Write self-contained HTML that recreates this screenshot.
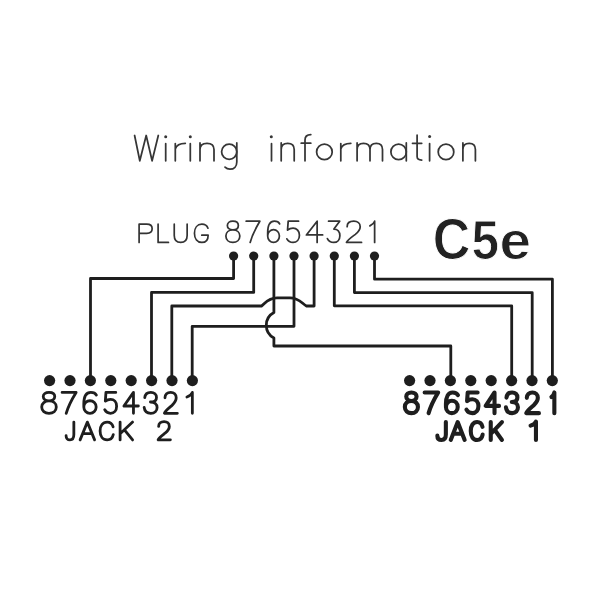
<!DOCTYPE html>
<html><head><meta charset="utf-8">
<style>
html,body{margin:0;padding:0;background:#fff;width:600px;height:600px;overflow:hidden}
svg{display:block;will-change:transform}
</style></head><body>
<svg width="600" height="600" viewBox="0 0 600 600">
<rect width="600" height="600" fill="#fff"/>
<!-- title -->
<g id="title" fill="none" stroke="#363636" stroke-width="1.75" stroke-linecap="round" stroke-linejoin="round">
<!-- W -->
<path d="M134.6,135.5 L139.8,160.8 L146.2,135.5 L152.1,160.8 L158.3,135.5"/>
<!-- i -->
<path d="M165.7,143.7 V160.8"/>
<!-- r -->
<path d="M175.3,143.5 V160.8 M175.3,149 C176.5,145 180,143.3 185.3,143.3"/>
<!-- i -->
<path d="M190.3,143.7 V160.8"/>
<!-- n -->
<path d="M200,142.9 V160.8 M200,149.5 C200,145 203,143.3 207,143.3 C211,143.3 214,145 214,149.5 V160.8"/>
<!-- g -->
<circle cx="229.2" cy="151.7" r="7.6"/>
<path d="M236.8,142.9 V162 C236.8,166.5 234,169.2 230,169.2 C228,169.2 226.3,168.5 225,167.2"/>
<!-- i -->
<path d="M271.5,143.7 V160.8"/>
<!-- n -->
<path d="M281.2,142.9 V160.8 M281.2,149.5 C281.2,145 284.2,143.3 287.7,143.3 C291.2,143.3 294.2,145 294.2,149.5 V160.8"/>
<!-- f -->
<path d="M305,160.8 V140 C305,136.5 307.3,134.6 310.8,134.6 M301.2,143.2 H310.8"/>
<!-- o -->
<circle cx="324.4" cy="151.9" r="7.8"/>
<!-- r -->
<path d="M340.8,143.5 V160.8 M340.8,149 C342,145 345.5,143.3 350.8,143.3"/>
<!-- m -->
<path d="M357.1,142.9 V160.8 M357.1,149.5 C357.1,145 360,143.3 363.5,143.3 C367,143.3 370,145 370,149.5 V160.8 M370,149.5 C370,145 373,143.3 376.3,143.3 C379.6,143.3 382.5,145 382.5,149.5 V160.8"/>
<!-- a -->
<circle cx="398.6" cy="151.9" r="7.7"/>
<path d="M406.3,142.9 V160.8"/>
<!-- t -->
<path d="M417.1,135.2 V156.5 C417.1,159 418.5,160 421.7,160 M412.5,143.3 H421.7"/>
<!-- i -->
<path d="M429.6,143.7 V160.8"/>
<!-- o -->
<circle cx="446" cy="151.9" r="7.8"/>
<!-- n -->
<path d="M462.9,142.9 V160.8 M462.9,149.5 C462.9,145 465.9,143.3 469.2,143.3 C472.5,143.3 475.4,145 475.4,149.5 V160.8"/>
</g>
<g fill="#363636">
<circle cx="165.7" cy="136.7" r="1.5"/>
<circle cx="190.3" cy="136.7" r="1.5"/>
<circle cx="271.3" cy="136.7" r="1.5"/>
<circle cx="429.6" cy="136.5" r="1.5"/>
</g>

<!-- plug label -->
<g font-family="Liberation Sans" font-weight="bold" font-size="100" fill="#222" stroke="#fff" stroke-width="1.7">
<text transform="translate(432.7,259) scale(0.52,0.568)">C</text>
<text transform="translate(471.4,258.9) scale(0.496,0.564)">5</text>
<text transform="translate(499.5,259) scale(0.566,0.535)">e</text>
</g>
<g fill="none" stroke="#333" stroke-width="1.75" stroke-linecap="round" stroke-linejoin="round" vector-effect="non-scaling-stroke">
<path transform="translate(225.88,221.18) scale(0.2114,0.2125)" d="M33,0 C49,0 59,8 59,20 C59,32 49,41 33,41 C17,41 7,32 7,20 C7,8 17,0 33,0 Z M33,41 C52,41 66,53 66,70 C66,88 52,100 33,100 C14,100 0,88 0,70 C0,53 14,41 33,41 Z" vector-effect="non-scaling-stroke"/>
<path transform="translate(246.18,221.18) scale(0.2100,0.2125)" d="M0,0 H65 C50,25 30,60 19,100" vector-effect="non-scaling-stroke"/>
<path transform="translate(267.68,221.18) scale(0.2213,0.2125)" d="M54,13 C50,4 42,0 30,0 C10,0 0,20 0,55 V68 M26.5,40 C41,40 53,53 53,70 C53,87 41,100 26.5,100 C12,100 0,87 0,70 C0,53 12,40 26.5,40 Z" vector-effect="non-scaling-stroke"/>
<path transform="translate(287.54,221.18) scale(0.2202,0.2125)" d="M50,0 H3 L0,42 C7,36 15,33 25,33 C42,33 54,47 54,66 C54,86 42,100 25,100 C12,100 2,93 -3,83" vector-effect="non-scaling-stroke"/>
<path transform="translate(306.38,221.18) scale(0.2289,0.2125)" d="M47,100 V0 L0,65 H71" vector-effect="non-scaling-stroke"/>
<path transform="translate(327.38,221.18) scale(0.1984,0.2125)" d="M6,0 H62 L33,37 C51,37 63,50 63,68 C63,87 50,100 32,100 C18,100 6,93 0,82" vector-effect="non-scaling-stroke"/>
<path transform="translate(346.48,221.18) scale(0.2213,0.2125)" d="M3,26 C3,10 15,0 33,0 C50,0 62,10 62,26 C62,40 54,50 40,62 C22,76 5,88 0,100 H68" vector-effect="non-scaling-stroke"/>
<path transform="translate(369.88,221.18) scale(0.2159,0.2125)" d="M0,22 C11,17 19,9 22,0 V100" vector-effect="non-scaling-stroke"/>
</g>
<g fill="none" stroke="#333" stroke-width="1.7" stroke-linecap="round" stroke-linejoin="round" vector-effect="non-scaling-stroke">
<path transform="translate(139.10,224.15) scale(0.1919,0.1830)" d="M0,100 V0 H40 C58,0 68,10 68,25 C68,40 58,50 40,50 H0" vector-effect="non-scaling-stroke"/>
<path transform="translate(158.10,224.15) scale(0.1816,0.1830)" d="M0,0 V100 H57" vector-effect="non-scaling-stroke"/>
<path transform="translate(174.25,224.15) scale(0.1817,0.1830)" d="M0,0 V62 C0,88 14,100 35.5,100 C57,100 71,88 71,62 V0" vector-effect="non-scaling-stroke"/>
<path transform="translate(194.45,224.15) scale(0.1930,0.1830)" d="M70,22 C65,7 53,0 38,0 C15,0 0,20 0,50 C0,80 15,100 38,100 C58,100 71,85 71,60 H38" vector-effect="non-scaling-stroke"/>
</g>
<g fill="none" stroke="#1e1e1e" stroke-width="2.8" stroke-linecap="round" stroke-linejoin="round" vector-effect="non-scaling-stroke">
<path transform="translate(41.70,392.40) scale(0.2212,0.2090)" d="M33,0 C49,0 59,8 59,20 C59,32 49,41 33,41 C17,41 7,32 7,20 C7,8 17,0 33,0 Z M33,41 C52,41 66,53 66,70 C66,88 52,100 33,100 C14,100 0,88 0,70 C0,53 14,41 33,41 Z" vector-effect="non-scaling-stroke"/>
<path transform="translate(62.10,392.40) scale(0.2154,0.2090)" d="M0,0 H65 C50,25 30,60 19,100" vector-effect="non-scaling-stroke"/>
<path transform="translate(83.80,392.40) scale(0.2333,0.2090)" d="M54,13 C50,4 42,0 30,0 C10,0 0,20 0,55 V68 M26.5,40 C41,40 53,53 53,70 C53,87 41,100 26.5,100 C12,100 0,87 0,70 C0,53 12,40 26.5,40 Z" vector-effect="non-scaling-stroke"/>
<path transform="translate(105.33,392.40) scale(0.2088,0.2090)" d="M50,0 H3 L0,42 C7,36 15,33 25,33 C42,33 54,47 54,66 C54,86 42,100 25,100 C12,100 2,93 -3,83" vector-effect="non-scaling-stroke"/>
<path transform="translate(123.90,392.40) scale(0.2035,0.2090)" d="M47,100 V0 L0,65 H71" vector-effect="non-scaling-stroke"/>
<path transform="translate(144.15,392.40) scale(0.2023,0.2090)" d="M3,25 C5,9 17,0 33,0 C50,0 61,10 61,24 C61,38 50,46 31,46 C52,46 64,57 64,72 C64,89 51,100 33,100 C14,100 2,90 0,72" vector-effect="non-scaling-stroke"/>
<path transform="translate(164.40,392.40) scale(0.1904,0.2090)" d="M3,26 C3,10 15,0 33,0 C50,0 62,10 62,26 C62,40 54,50 40,62 C22,76 5,88 0,100 H68" vector-effect="non-scaling-stroke"/>
<path transform="translate(186.90,392.40) scale(0.2477,0.2090)" d="M0,22 C11,17 19,9 22,0 V100" vector-effect="non-scaling-stroke"/>
</g>
<g fill="none" stroke="#1e1e1e" stroke-width="2.8" stroke-linecap="round" stroke-linejoin="round" vector-effect="non-scaling-stroke">
<path transform="translate(66.10,422.10) scale(0.1761,0.1780)" d="M44,0 V70 C44,90 35,100 22,100 C8,100 0,92 0,76" vector-effect="non-scaling-stroke"/>
<path transform="translate(80.10,422.10) scale(0.1747,0.1780)" d="M0,100 L41.5,0 L83,100 M15,65 H68" vector-effect="non-scaling-stroke"/>
<path transform="translate(100.10,422.10) scale(0.1760,0.1780)" d="M74,27 C69,9 57,0 40,0 C15,0 0,20 0,50 C0,80 15,100 40,100 C58,100 71,89 75,70" vector-effect="non-scaling-stroke"/>
<path transform="translate(120.10,422.10) scale(0.1736,0.1780)" d="M0,0 V100 M72,0 L0,66 M25,43 L72,100" vector-effect="non-scaling-stroke"/>
<path transform="translate(158.10,421.65) scale(0.1809,0.1820)" d="M3,26 C3,10 15,0 33,0 C50,0 62,10 62,26 C62,40 54,50 40,62 C22,76 5,88 0,100 H68" vector-effect="non-scaling-stroke"/>
</g>
<g fill="none" stroke="#1e1e1e" stroke-width="4.1" stroke-linecap="round" stroke-linejoin="round" vector-effect="non-scaling-stroke">
<path transform="translate(404.85,392.45) scale(0.1985,0.2070)" d="M33,0 C49,0 59,8 59,20 C59,32 49,41 33,41 C17,41 7,32 7,20 C7,8 17,0 33,0 Z M33,41 C52,41 66,53 66,70 C66,88 52,100 33,100 C14,100 0,88 0,70 C0,53 14,41 33,41 Z" vector-effect="non-scaling-stroke"/>
<path transform="translate(424.65,392.45) scale(0.2077,0.2070)" d="M0,0 H65 C50,25 30,60 19,100" vector-effect="non-scaling-stroke"/>
<path transform="translate(445.95,392.45) scale(0.2222,0.2070)" d="M54,13 C50,4 42,0 30,0 C10,0 0,20 0,55 V68 M26.5,40 C41,40 53,53 53,70 C53,87 41,100 26.5,100 C12,100 0,87 0,70 C0,53 12,40 26.5,40 Z" vector-effect="non-scaling-stroke"/>
<path transform="translate(467.08,392.45) scale(0.2105,0.2070)" d="M50,0 H3 L0,42 C7,36 15,33 25,33 C42,33 54,47 54,66 C54,86 42,100 25,100 C12,100 2,93 -3,83" vector-effect="non-scaling-stroke"/>
<path transform="translate(485.65,392.45) scale(0.1887,0.2070)" d="M47,100 V0 L0,65 H71" vector-effect="non-scaling-stroke"/>
<path transform="translate(505.95,392.45) scale(0.1875,0.2070)" d="M3,25 C5,9 17,0 33,0 C50,0 61,10 61,24 C61,38 50,46 31,46 C52,46 64,57 64,72 C64,89 51,100 33,100 C14,100 2,90 0,72" vector-effect="non-scaling-stroke"/>
<path transform="translate(526.25,392.45) scale(0.1868,0.2070)" d="M3,26 C3,10 15,0 33,0 C50,0 62,10 62,26 C62,40 54,50 40,62 C22,76 5,88 0,100 H68" vector-effect="non-scaling-stroke"/>
<path transform="translate(551.45,392.45) scale(0.1318,0.2070)" d="M0,22 C11,17 19,9 22,0 V100" vector-effect="non-scaling-stroke"/>
</g>
<g fill="none" stroke="#1e1e1e" stroke-width="4.1" stroke-linecap="round" stroke-linejoin="round" vector-effect="non-scaling-stroke">
<path transform="translate(437.35,422.05) scale(0.1932,0.1790)" d="M44,0 V70 C44,90 35,100 22,100 C8,100 0,92 0,76" vector-effect="non-scaling-stroke"/>
<path transform="translate(450.75,422.05) scale(0.1675,0.1790)" d="M0,100 L41.5,0 L83,100 M15,65 H68" vector-effect="non-scaling-stroke"/>
<path transform="translate(470.75,422.05) scale(0.1587,0.1790)" d="M74,27 C69,9 57,0 40,0 C15,0 0,20 0,50 C0,80 15,100 40,100 C58,100 71,89 75,70" vector-effect="non-scaling-stroke"/>
<path transform="translate(490.75,422.05) scale(0.1556,0.1790)" d="M0,0 V100 M72,0 L0,66 M25,43 L72,100" vector-effect="non-scaling-stroke"/>
<path transform="translate(530.55,421.55) scale(0.2455,0.1840)" d="M0,22 C11,17 19,9 22,0 V100" vector-effect="non-scaling-stroke"/>
</g>
<!-- wires -->
<g fill="none" stroke="#1e1e1e" stroke-width="2.8" stroke-linejoin="round" stroke-linecap="butt">
<path d="M233.6,256 V278.5 H90.5 V380.5"/>
<path d="M253.7,256 V292.4 H151.5 V380.5"/>
<path d="M314.1,256 V306 H306.5 C302,303.5 299,297.8 290,297.8 H277 C268,297.8 265,303.5 261.5,306 H171.8 V380.5"/>
<path d="M294,256 V326.3 H192.2 V380.5"/>
<path d="M273.9,256 V312.5 A14.5,14.5 0 0 0 273.9,338 V346 H450.8 V380.5"/>
<path d="M334.3,256 V305.8 H511.7 V380.5"/>
<path d="M354.4,256 V292.6 H532.2 V380.5"/>
<path d="M374.5,256 V279.2 H552.4 V380.5"/>
</g>
<!-- plug dots -->
<g fill="#1e1e1e">
<circle cx="233.6" cy="256" r="4.6"/><circle cx="253.7" cy="256" r="4.6"/><circle cx="273.9" cy="256" r="4.6"/><circle cx="294" cy="256" r="4.6"/>
<circle cx="314.1" cy="256" r="4.6"/><circle cx="334.3" cy="256" r="4.6"/><circle cx="354.4" cy="256" r="4.6"/><circle cx="374.5" cy="256" r="4.6"/>
</g>
<!-- jack dots -->
<g fill="#1e1e1e">
<circle cx="49.6" cy="380.6" r="5.6"/><circle cx="70" cy="380.6" r="5.6"/><circle cx="90.4" cy="380.6" r="5.6"/><circle cx="110.8" cy="380.6" r="5.6"/>
<circle cx="131.2" cy="380.6" r="5.6"/><circle cx="151.6" cy="380.6" r="5.6"/><circle cx="172" cy="380.6" r="5.6"/><circle cx="192.4" cy="380.6" r="5.6"/>
<circle cx="409.6" cy="380.6" r="5.6"/><circle cx="430" cy="380.6" r="5.6"/><circle cx="450.4" cy="380.6" r="5.6"/><circle cx="470.8" cy="380.6" r="5.6"/>
<circle cx="491.2" cy="380.6" r="5.6"/><circle cx="511.6" cy="380.6" r="5.6"/><circle cx="532" cy="380.6" r="5.6"/><circle cx="552.3" cy="380.6" r="5.6"/>
</g>
</svg>
</body></html>
